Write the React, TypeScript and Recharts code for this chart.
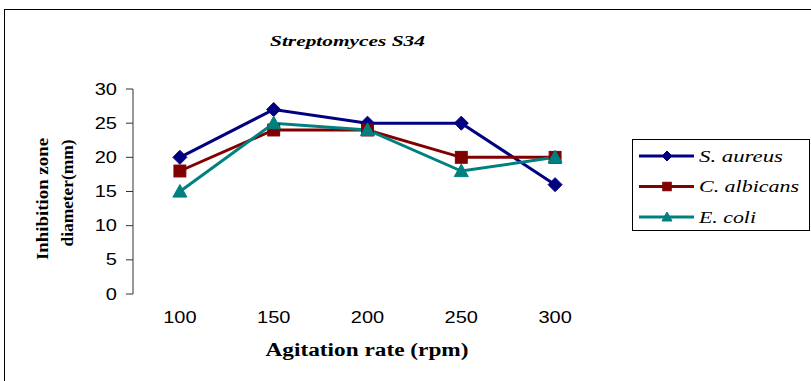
import React from 'react';
import { LineChart, Line, XAxis, YAxis, Legend } from 'recharts';

const rates = [100, 150, 200, 250, 300];
const sAureus = [20, 27, 25, 25, 16];
const cAlbicans = [18, 24, 24, 20, 20];
const eColi = [15, 25, 24, 18, 20];
const yTicks = [0, 5, 10, 15, 20, 25, 30];
const bandEdges = [75, 125, 175, 225, 275, 325];
const seriesOrder = ['sAureus', 'cAlbicans', 'eColi'];

const data = rates.map((rpm, i) => ({
  rpm,
  sAureus: sAureus[i],
  cAlbicans: cAlbicans[i],
  eColi: eColi[i],
}));

const NAVY = '#000080';
const MAROON = '#800000';
const TEAL = '#008080';
const AXIS = '#333';
const SERIF = '"Liberation Serif", "Times New Roman", serif';
const SANS = '"Liberation Sans", Arial, sans-serif';

const Marker = ({ kind, cx, cy, size, color }: any) => {
  const h = size / 2;
  if (kind === 'diamond') {
    return <path d={`M${cx},${cy - h} L${cx + h},${cy} L${cx},${cy + h} L${cx - h},${cy} Z`} fill={color} stroke={color} strokeWidth={1} />;
  }
  if (kind === 'square') {
    const s = h * 0.85;
    return <rect x={cx - s} y={cy - s} width={s * 2} height={s * 2} fill={color} stroke={color} strokeWidth={1} />;
  }
  return <path d={`M${cx},${cy - h} L${cx + h},${cy + h * 0.8} L${cx - h},${cy + h * 0.8} Z`} fill={color} stroke={color} strokeWidth={1} />;
};

const dotFor = (kind: string, color: string) => (props: any) => (
  <Marker key={`${kind}-${props.index}`} kind={kind} cx={props.cx} cy={props.cy} size={14} color={color} />
);

const shapes: Record<string, string> = { sAureus: 'diamond', cAlbicans: 'square', eColi: 'triangle' };
const legendWidths: Record<string, number> = { sAureus: 84, cAlbicans: 100, eColi: 57 };

const XTick = ({ x, y, payload }: any) => (
  <g transform={`translate(${x},${y}) scale(1.25,1)`}>
    <text x={0} y={0} dy="0.71em" textAnchor="middle" fontFamily={SANS} fontSize={16} fill="#000">
      {payload.value}
    </text>
  </g>
);

const YTick = ({ x, y, payload }: any) => (
  <g transform={`translate(${x},${y}) scale(1.25,1)`}>
    <text x={0} y={0} dy="0.35em" textAnchor="end" fontFamily={SANS} fontSize={16} fill="#000">
      {payload.value}
    </text>
  </g>
);

const LegendBox = ({ payload }: any) => {
  const items = [...(payload || [])].sort(
    (a: any, b: any) => seriesOrder.indexOf(a.dataKey) - seriesOrder.indexOf(b.dataKey)
  );
  return (
    <svg width={178} height={92} style={{ display: 'block' }}>
      <rect x={0.5} y={0.5} width={177} height={91} fill="#fff" stroke="#000" strokeWidth={1} />
      {items.map((entry: any, i: number) => {
        const cy = 17 + i * 30.5;
        return (
          <g key={entry.dataKey}>
            <line x1={7} x2={62} y1={cy} y2={cy} stroke={entry.color} strokeWidth={3} />
            <Marker kind={shapes[entry.dataKey]} cx={35} cy={cy} size={10} color={entry.color} />
            <text
              x={67}
              y={cy + 5.5}
              fontFamily={SERIF}
              fontStyle="italic"
              fontSize={16}
              textLength={legendWidths[entry.dataKey]}
              lengthAdjust="spacingAndGlyphs"
              fill="#000"
            >
              {entry.value}
            </text>
          </g>
        );
      })}
    </svg>
  );
};

const App: React.FC = () => {
  return (
    <div style={{ position: 'fixed', left: 0, top: 0, width: 811, height: 381, overflow: 'hidden', background: '#fff' }}>
      <div style={{ position: 'absolute', left: 4, top: 9, width: 900, height: 500, border: '1px solid #000', boxSizing: 'border-box' }} />
      <div style={{ position: 'absolute', left: 0, top: 0 }}>
        <LineChart width={811} height={381} data={data} margin={{ top: 89, right: 209, bottom: 47, left: 83 }}>
          <XAxis
            xAxisId="bands"
            dataKey="rpm"
            type="number"
            domain={[75, 325]}
            ticks={bandEdges}
            height={0}
            tick={() => <g />}
            tickSize={6}
            stroke={AXIS}
            axisLine={{ stroke: AXIS }}
            tickLine={{ stroke: AXIS }}
          />
          <XAxis
            xAxisId="labels"
            dataKey="rpm"
            type="number"
            domain={[75, 325]}
            ticks={rates}
            height={40}
            axisLine={false}
            tickLine={false}
            tickSize={6}
            tickMargin={12}
            tick={<XTick />}
          />
          <YAxis
            domain={[0, 30]}
            ticks={yTicks}
            width={50}
            tickSize={7}
            tickMargin={9}
            stroke={AXIS}
            axisLine={{ stroke: AXIS }}
            tickLine={{ stroke: AXIS }}
            tick={<YTick />}
          />
          <Legend
            layout="vertical"
            align="center"
            verticalAlign="middle"
            wrapperStyle={{ left: 632, top: 139, width: 178, height: 92 }}
            content={<LegendBox />}
          />
          <Line xAxisId="bands" type="linear" dataKey="sAureus" name="S. aureus" stroke={NAVY} strokeWidth={3} dot={dotFor('diamond', NAVY)} activeDot={false} isAnimationActive={false} />
          <Line xAxisId="bands" type="linear" dataKey="cAlbicans" name="C. albicans" stroke={MAROON} strokeWidth={3} dot={dotFor('square', MAROON)} activeDot={false} isAnimationActive={false} />
          <Line xAxisId="bands" type="linear" dataKey="eColi" name="E. coli" stroke={TEAL} strokeWidth={3} dot={dotFor('triangle', TEAL)} activeDot={false} isAnimationActive={false} />
        </LineChart>
      </div>
      <svg width={811} height={381} style={{ position: 'absolute', left: 0, top: 0, pointerEvents: 'none' }}>
        <text x={347.5} y={46} textAnchor="middle" fontFamily={SERIF} fontWeight="bold" fontStyle="italic" fontSize={15} textLength={155} lengthAdjust="spacingAndGlyphs">
          Streptomyces S34
        </text>
        <text x={367} y={356} textAnchor="middle" fontFamily={SERIF} fontWeight="bold" fontSize={18} textLength={203} lengthAdjust="spacingAndGlyphs">
          Agitation rate (rpm)
        </text>
        <text transform="translate(48,199) rotate(-90)" textAnchor="middle" fontFamily={SERIF} fontWeight="bold" fontSize={17} textLength={122} lengthAdjust="spacingAndGlyphs">
          Inhibition zone
        </text>
        <text transform="translate(73,193) rotate(-90)" textAnchor="middle" fontFamily={SERIF} fontWeight="bold" fontSize={17} textLength={107} lengthAdjust="spacingAndGlyphs">
          diameter(mm)
        </text>
      </svg>
    </div>
  );
};

export default App;
